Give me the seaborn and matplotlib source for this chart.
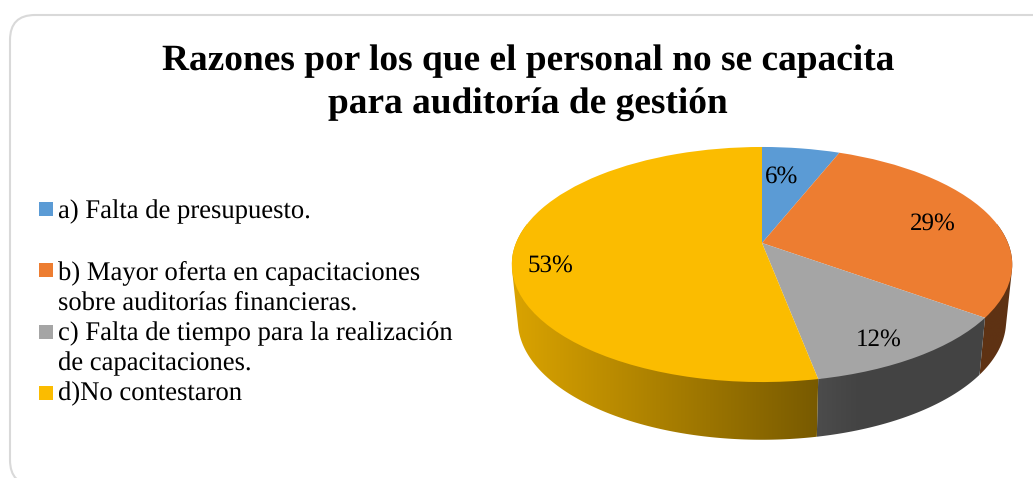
import numpy as np
import matplotlib
matplotlib.use("Agg")
import matplotlib.pyplot as plt
import seaborn as sns
from matplotlib.patches import FancyBboxPatch, Polygon, Rectangle
from matplotlib.transforms import Transform

# ---------- data ----------
categories = ["a) Falta de presupuesto.",
              "b) Mayor oferta en capacitaciones\nsobre auditorías financieras.",
              "c) Falta de tiempo para la realización\nde capacitaciones.",
              "d)No contestaron"]
values = [6, 29, 12, 53]
colors = ["#5B9BD5", "#ED7D31", "#A5A5A5", "#FBBC00"]
title = "Razones por los que el personal no se capacita\npara auditoría de gestión"

# ---------- style ----------
sns.set_theme(style="white")
plt.rcParams["font.family"] = ["Liberation Serif", "DejaVu Serif"]
plt.rcParams["text.hinting"] = "no_hinting"
palette = sns.color_palette(colors)

# ---------- perspective geometry (pixels) ----------
CX, K = 762.0, 0.183
TOP = dict(b=246.0, a=113.6, y0=243.0)
LOW = dict(b=240.0, a=115.0, y0=299.0)


def project(x, y, g):
    d = 1 + K * y
    return CX + g["b"] * x / d, g["y0"] - g["a"] * y / d


def convex_hull(pts):
    pts = sorted(map(tuple, pts))

    def half(seq):
        out = []
        for p in seq:
            while len(out) >= 2 and ((out[-1][0] - out[-2][0]) * (p[1] - out[-2][1])
                                     - (out[-1][1] - out[-2][1]) * (p[0] - out[-2][0])) <= 0:
                out.pop()
            out.append(p)
        return out[:-1]

    return np.array(half(pts) + half(pts[::-1]))


class Perspective(Transform):
    input_dims = output_dims = 2
    is_separable = False
    has_inverse = False

    def transform_non_affine(self, xy):
        xy = np.asarray(xy, float)
        return np.column_stack(project(xy[:, 0], xy[:, 1], TOP))


fig = plt.figure(figsize=(10.33, 4.78), dpi=100, facecolor="white")
ax = fig.add_axes([0, 0, 1, 1])

wedges, _ = ax.pie(values, colors=palette, startangle=90, counterclock=False,
                   radius=1, wedgeprops=dict(linewidth=0))
persp = Perspective() + ax.transData
for w in wedges:
    w.set_transform(persp)
    w.set_zorder(3)

# ---------- side wall: horizontal gradient clipped to each slice's wall ----------
edges = np.cumsum([0] + values) / sum(values) * 360.0


def shade(i, x):
    if i == 3:
        return 0.48 + (817 - x) / 306 * 0.39
    if i == 2:
        return np.maximum(0.41, 0.46 - (x - 817) / 40 * 0.05)
    return np.full_like(x, 0.40)


for i, (a0, a1) in enumerate(zip(edges[:-1], edges[1:])):
    a0, a1 = max(a0, 80), min(a1, 280)
    if a1 <= a0:
        continue
    t = np.radians(np.linspace(a0, a1, 300))
    xs, ys = np.sin(t), np.cos(t)
    tx, ty = project(xs, ys, TOP)
    lx, ly = project(xs, ys, LOW)
    outline = convex_hull(np.vstack([np.column_stack([tx, ty]), np.column_stack([lx, ly])]))
    x0, x1 = outline[:, 0].min(), outline[:, 0].max()
    y0, y1 = outline[:, 1].min(), outline[:, 1].max()
    gx = np.linspace(x0, x1, 256)
    grad = np.array(palette[i])[None, None, :] * np.atleast_1d(shade(i, gx))[None, :, None]
    im = ax.imshow(grad, extent=(x0, x1, y1, y0), aspect="auto", zorder=2,
                   interpolation="bilinear")
    clip = Polygon(outline, closed=True, transform=ax.transData, fc="none", ec="none")
    ax.add_patch(clip)
    im.set_clip_path(clip)

ax.set_aspect("auto")
ax.set_xlim(0, 1033)
ax.set_ylim(478, 0)
ax.axis("off")

# ---------- frame ----------
ax.add_patch(FancyBboxPatch((35, 40), 1100, 420,
                            boxstyle="round,pad=25,rounding_size=25",
                            fc="white", ec="#D9D9D9", lw=1.5, zorder=0))

# ---------- texts ----------
ax.text(528, 83, title, ha="center", va="center", fontsize=26.9,
        fontweight="bold", color="black", linespacing=1.34, zorder=5)

pct_xy = [(782, 177), (933, 224), (879, 340), (550, 266)]
for v, (x, y) in zip(values, pct_xy):
    ax.text(x, y, f"{v}%", ha="center", va="center", fontsize=18, color="black", zorder=5)

# ---------- legend ----------
square_top = [202, 263, 325, 386]
baselines = [[218], [279, 310], [340, 370], [400]]
for c, lab, top, bases in zip(palette, categories, square_top, baselines):
    ax.add_patch(Rectangle((39, top), 14, 14, fc=c, ec="none", zorder=5))
    for part, base in zip(lab.split("\n"), bases):
        ax.text(58, base, part, ha="left", va="baseline", fontsize=19.2,
                color="black", zorder=5)

fig.savefig("out.png", dpi=100, facecolor="white")
